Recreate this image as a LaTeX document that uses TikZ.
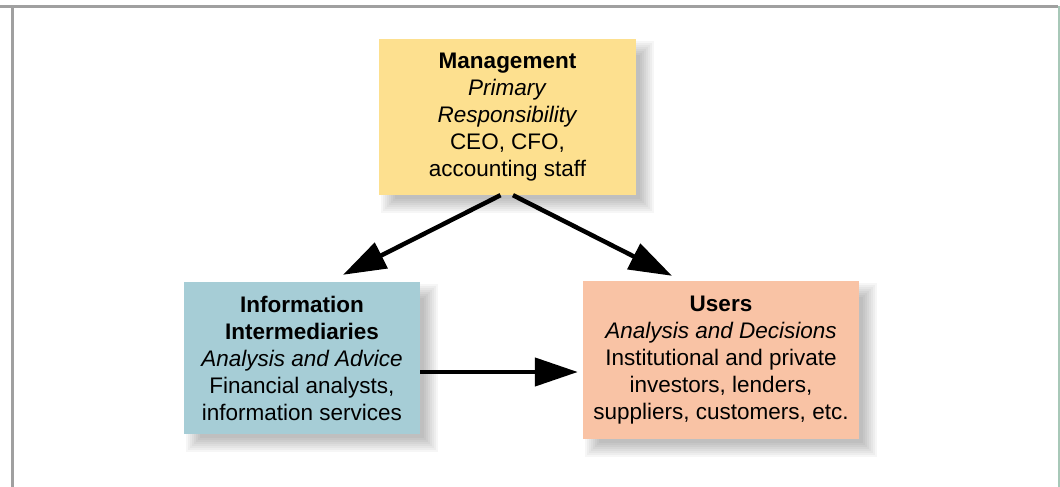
\documentclass[tikz,border=0pt]{standalone}
\usepackage{fontspec}
\setmainfont{Liberation Sans}
\usetikzlibrary{arrows.meta,backgrounds}
\definecolor{mgcol}{HTML}{FDE08F}
\definecolor{infocol}{HTML}{A6CDD6}
\definecolor{usercol}{HTML}{F9C3A5}
\definecolor{framegray}{HTML}{A0A0A0}
\definecolor{framegreen}{HTML}{A8C8B8}
\tikzset{
  box/.style={rectangle, inner sep=0pt, align=center,
    font=\fontsize{22.5}{27}\selectfont},
  flow/.style={line width=4.5pt, -{Triangle[length=43pt,width=28pt]}},
}
\newcommand{\boxshadow}[1]{%
  \foreach \e in {8,6,4,2,0,-2,-4,-6}{%
    \fill[black,opacity=0.035]
      ([xshift={(10-(\e))*1pt}, yshift={(-10+(\e))*1pt}]#1.north west)
      rectangle
      ([xshift={(10+(\e))*1pt}, yshift={(-10-(\e))*1pt}]#1.south east);
  }}
\begin{document}
\begin{tikzpicture}[x=1pt,y=-1pt]
\useasboundingbox (0,0) rectangle (1060,487);
% frame
\draw[framegray, line width=3pt] (0,6.8) -- (1058,6.8);
\draw[framegray, line width=2.6pt] (12.3,6) -- (12.3,487);
\draw[framegreen, line width=2pt] (1059,6) -- (1059,487);
% boxes
\node[box, fill=mgcol, minimum width=257pt, minimum height=156pt] (mg) at (507.5,117)
  {\textbf{Management}\\\textit{Primary}\\\textit{Responsibility}\\CEO, CFO,\\accounting staff};
\node[box, fill=infocol, minimum width=236pt, minimum height=152pt] (info) at (302,358)
  {\textbf{Information}\\\textbf{Intermediaries}\\\textit{Analysis and Advice}\\Financial analysts,\\information services};
\node[box, fill=usercol, minimum width=276pt, minimum height=158pt] (users) at (721,360)
  {\textbf{Users}\\\textit{Analysis and Decisions}\\Institutional and private\\investors, lenders,\\suppliers, customers, etc.};
\begin{pgfonlayer}{background}
  \boxshadow{mg}
  \boxshadow{info}
  \boxshadow{users}
\end{pgfonlayer}
% arrows
\draw[flow] ([xshift=-7pt]mg.south) -- ([xshift=41pt,yshift=7pt]info.north);
\draw[flow] ([xshift=5.5pt]mg.south) -- ([xshift=-49pt,yshift=5pt]users.north);
\coordinate (hs) at ([yshift=-14pt]info.east);
\coordinate (he) at ([xshift=-5pt]users.west |- hs);
\draw[flow] (hs) -- (he);
\end{tikzpicture}
\end{document}
